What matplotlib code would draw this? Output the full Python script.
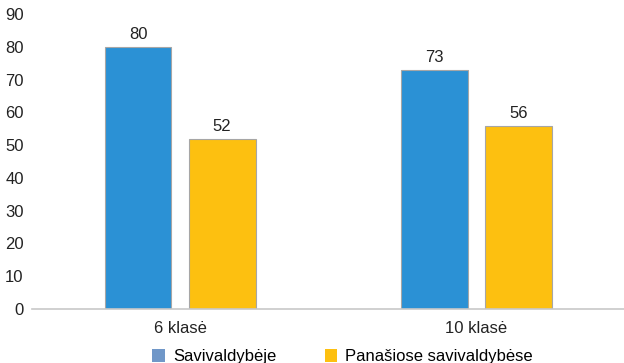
import matplotlib
matplotlib.use("Agg")
import matplotlib.pyplot as plt
import numpy as np
from matplotlib.patches import Patch

plt.rcParams['font.family'] = ['Liberation Sans', 'DejaVu Sans']

categories = ["6 klasė", "10 klasė"]
series_names = ["Savivaldybėje", "Panašiose savivaldybėse"]
savivaldybeje = [80, 73]
panasiose = [52, 56]

bar_colors = ["#2b91d5", "#fdc010"]
legend_colors = ["#7097c8", "#fdc010"]

fig = plt.figure(figsize=(6.24, 3.63), dpi=100)
ax = fig.add_axes([0.0513, 0.149, 0.949, 0.812])

x = np.arange(len(categories))
w = 0.226
off = 0.142
b1 = ax.bar(x - off, savivaldybeje, w, color=bar_colors[0], edgecolor="#a6a6a6", linewidth=0.8)
b2 = ax.bar(x + off, panasiose, w, color=bar_colors[1], edgecolor="#a6a6a6", linewidth=0.8)

# value labels above bars
for bars in (b1, b2):
    for bar in bars:
        h = bar.get_height()
        ax.text(bar.get_x() + bar.get_width() / 2, h + 2.4, str(int(h)),
                ha='center', va='baseline', fontsize=12, color="#222222")

ax.set_xlim(-0.5, 1.5)
ax.set_ylim(0, 90)
ax.set_yticks(range(0, 91, 10))
ax.set_xticks(x)
ax.set_xticklabels(categories)
ax.tick_params(axis='both', length=0, labelsize=12, colors="#222222")
ax.tick_params(axis='y', pad=6)
ax.tick_params(axis='x', pad=9)
for s in ("top", "right", "left"):
    ax.spines[s].set_visible(False)
ax.spines["bottom"].set_color("#c8c8c8")
ax.spines["bottom"].set_linewidth(1.2)

handles = [Patch(facecolor=c, edgecolor="none") for c in legend_colors]
fig.legend(handles, series_names, loc='lower center', bbox_to_anchor=(0.549, -0.045),
           ncol=2, frameon=False, fontsize=12, handlelength=0.75, handleheight=0.75,
           handletextpad=0.5, columnspacing=2.9)

fig.savefig("out.png", dpi=100)
